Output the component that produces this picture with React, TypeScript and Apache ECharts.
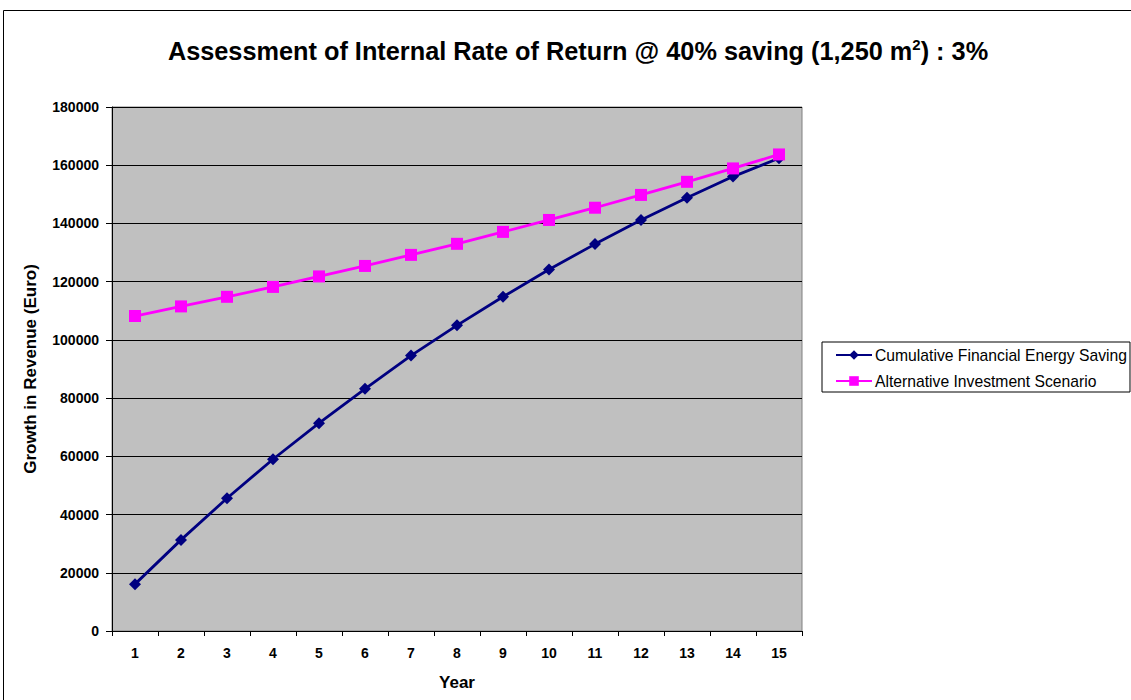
import React, { useEffect, useRef } from "react";
import * as echarts from "echarts";

const years = ["1", "2", "3", "4", "5", "6", "7", "8", "9", "10", "11", "12", "13", "14", "15"];
const cumulativeSaving = [16100, 31300, 45600, 59000, 71400, 83200, 94600, 105000, 114800, 124200, 132900, 141200, 148800, 156100, 162400];
const alternativeInvestment = [108200, 111500, 114800, 118200, 121800, 125400, 129200, 133000, 137100, 141200, 145400, 149800, 154300, 158900, 163700];

const FONT = "Arial, 'Liberation Sans', sans-serif";

export default function App() {
  const ref = useRef<HTMLDivElement>(null);

  useEffect(() => {
    if (!ref.current) return;
    const chart = echarts.init(ref.current, undefined, { renderer: "svg" });
    chart.setOption({
      animation: false,
      backgroundColor: "#ffffff",
      textStyle: { fontFamily: FONT },
      title: {
        text: "{t|Assessment of Internal Rate of Return @ 40% saving (1,250 m}{s|2}{t|) : 3%}",
        left: 573,
        textAlign: "center",
        top: 32,
        textStyle: {
          rich: {
            t: { fontFamily: FONT, fontWeight: "bold", fontSize: 25.3, color: "#000" },
            s: { fontFamily: FONT, fontWeight: "bold", fontSize: 15, color: "#000", verticalAlign: "top", padding: [0, 0, 12, 0] },
          },
        },
      },
      graphic: [
        {
          type: "rect",
          shape: { x: 3.5, y: 10.5, width: 1200, height: 800 },
          style: { fill: "none", stroke: "#000", lineWidth: 1 },
          silent: true,
        },
      ],
      legend: {
        orient: "vertical",
        left: 822,
        top: 342,
        padding: [5, 3, 3, 13],
        itemWidth: 36,
        itemHeight: 12,
        itemGap: 10,
        borderColor: "#000",
        borderWidth: 1,
        backgroundColor: "#fff",
        textStyle: { fontFamily: FONT, fontSize: 15.7, color: "#000", padding: [0, 0, 0, -2] },
        data: ["Cumulative Financial Energy Saving", "Alternative Investment Scenario"],
      },
      grid: {
        left: 112,
        top: 107,
        width: 690,
        height: 524,
        show: true,
        backgroundColor: "#C0C0C0",
        borderColor: "#808080",
        borderWidth: 1,
      },
      xAxis: {
        type: "category",
        data: years,
        boundaryGap: true,
        name: "Year",
        nameLocation: "middle",
        nameGap: 43,
        nameTextStyle: { fontFamily: FONT, fontWeight: "bold", fontSize: 17, color: "#000" },
        axisLine: { lineStyle: { color: "#000", width: 1 } },
        axisTick: { show: true, interval: 0, length: 5, lineStyle: { color: "#000" } },
        axisLabel: { interval: 0, margin: 15, fontFamily: FONT, fontWeight: "bold", fontSize: 14, color: "#000" },
        splitLine: { show: false },
      },
      yAxis: {
        type: "value",
        min: 0,
        max: 180000,
        interval: 20000,
        name: "Growth in Revenue (Euro)",
        nameLocation: "middle",
        nameGap: 73,
        nameRotate: 90,
        nameTextStyle: { fontFamily: FONT, fontWeight: "bold", fontSize: 17, color: "#000" },
        axisLine: { show: true, lineStyle: { color: "#000", width: 1 } },
        axisTick: { show: true, length: 6, lineStyle: { color: "#000" } },
        axisLabel: {
          margin: 13,
          fontFamily: FONT,
          fontWeight: "bold",
          fontSize: 14,
          color: "#000",
          formatter: (v: number) => String(v),
        },
        splitLine: { show: true, lineStyle: { color: "#000", width: 1 } },
      },
      series: [
        {
          name: "Cumulative Financial Energy Saving",
          type: "line",
          data: cumulativeSaving,
          symbol: "diamond",
          symbolSize: 12,
          lineStyle: { color: "#000080", width: 2.8 },
          itemStyle: { color: "#000080" },
          z: 3,
        },
        {
          name: "Alternative Investment Scenario",
          type: "line",
          data: alternativeInvestment,
          symbol: "rect",
          symbolSize: 12,
          lineStyle: { color: "#FF00FF", width: 2.8 },
          itemStyle: { color: "#FF00FF" },
          z: 4,
        },
      ],
    });
    return () => chart.dispose();
  }, []);

  return (
    <div
      ref={ref}
      style={{ position: "fixed", left: 0, top: 0, width: 1131, height: 700 }}
    />
  );
}
